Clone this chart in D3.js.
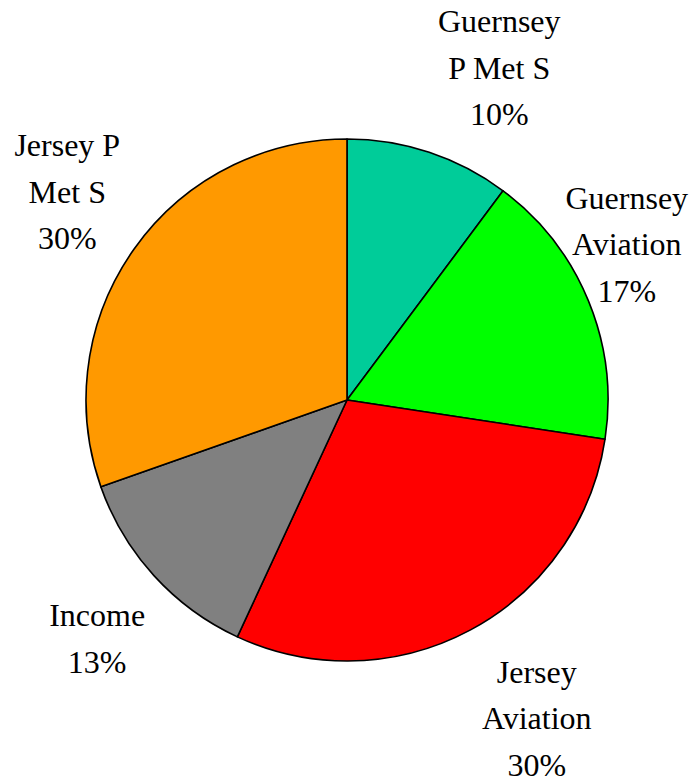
<!DOCTYPE html>
<html><head><meta charset="utf-8"><script src="https://cdn.jsdelivr.net/npm/d3@7"></script>
<style>
  svg text, svg tspan { font-family: "Liberation Serif", "Times New Roman", serif !important; }
</style>
</head>
<body style="margin:0">
<svg id="s" width="698" height="782"></svg>
<script>
// ---- Data ----
const categories = ["Guernsey P Met S", "Guernsey Aviation", "Jersey Aviation", "Income", "Jersey P Met S"];
const labelLines = [["Guernsey", "P Met S"], ["Guernsey", "Aviation"], ["Jersey", "Aviation"], ["Income"], ["Jersey P", "Met S"]];
const values = [10.2, 17.2, 29.5, 12.7, 30.4];
const colors = ["#00CC99", "#00FF00", "#FF0000", "#808080", "#FF9900"];

// ---- Layout config ----
const cx = 347, cy = 400, radius = 261;
const labelRadius = 350;
const labelNudge = [[42, 1], [-44, -22], [24, 11], [9, 4], [6, -5]];
const fontSize = 32, lineH = 46.5;

const svg = d3.select("#s");

const total = d3.sum(values);
const pie = d3.pie().sort(null).value(d => d)(values);
const arc = d3.arc().innerRadius(0).outerRadius(radius);
const labelArc = d3.arc().innerRadius(labelRadius).outerRadius(labelRadius);

svg.selectAll("path.slice").data(pie).join("path")
  .attr("class", "slice")
  .attr("transform", `translate(${cx},${cy})`)
  .attr("d", arc)
  .attr("fill", (d, i) => colors[i])
  .attr("stroke", "#000")
  .attr("stroke-width", 1.6)
  .attr("stroke-linejoin", "round");

pie.forEach((d, i) => {
  const [x0, y0] = labelArc.centroid(d);
  const x = cx + x0 + labelNudge[i][0];
  const y = cy + y0 + labelNudge[i][1];
  const lines = labelLines[i].concat([Math.round(d.value / total * 100) + "%"]);
  const n = lines.length;
  const firstBase = y + 10 - (n - 1) / 2 * lineH;
  lines.forEach((s, k) => {
    svg.append("text")
      .attr("x", x)
      .attr("y", firstBase + k * lineH)
      .attr("text-anchor", "middle")
      .attr("font-family", "Liberation Serif")
      .style("font-size", fontSize + "px")
      .text(s);
  });
});
</script></body></html>
